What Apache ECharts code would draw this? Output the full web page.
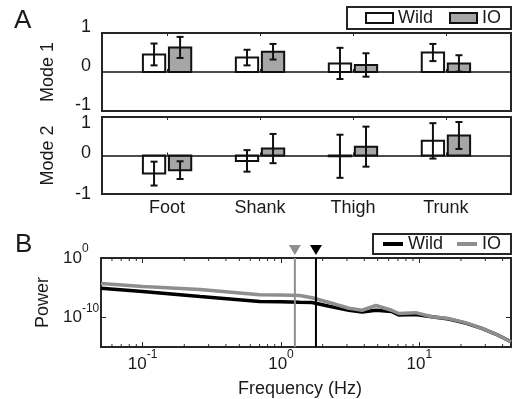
<!DOCTYPE html>
<html>
<head>
<meta charset="utf-8">
<script src="https://cdn.jsdelivr.net/npm/echarts@6/dist/echarts.min.js"></script>
<style>
html, body { margin: 0; padding: 0; background: #fff; }
#main { width: 513px; height: 399px; }
</style>
</head>
<body>
<div id="main"></div>
<script>
// panel A: mode weights per body segment (mean, error)
var segments = ['Foot', 'Shank', 'Thigh', 'Trunk'];
var mode1Wild = [0.45, 0.37, 0.22, 0.50];
var mode1WildErr = [0.28, 0.20, 0.40, 0.22];
var mode1IO = [0.63, 0.52, 0.18, 0.22];
var mode1IOErr = [0.27, 0.20, 0.30, 0.21];
var mode2Wild = [-0.47, -0.14, -0.02, 0.38];
var mode2WildErr = [0.31, 0.28, 0.56, 0.46];
var mode2IO = [-0.38, 0.18, 0.23, 0.52];
var mode2IOErr = [0.23, 0.38, 0.52, 0.35];

// panel B: power spectra
var freqs = [0.05, 0.1, 0.26, 0.7, 1.0, 1.36, 1.68, 2.23, 3.1, 3.86, 4.86, 6.3, 7.1, 9.4, 12.3, 16.3, 21.6, 28.3, 36.3, 46];
var wildPower = [7.9e-6, 2.2e-6, 3.2e-7, 4.6e-8, 4.2e-8, 3.5e-8, 3.2e-8, 7.4e-9, 1.6e-9, 7.9e-10, 1.6e-9, 1.0e-9, 2.5e-10, 3.2e-10, 1.3e-10, 5.5e-11, 1.1e-11, 1.4e-12, 1.3e-13, 7.9e-15];
var ioPower = [5.0e-5, 1.6e-5, 5.0e-6, 6.8e-7, 6.0e-7, 4.7e-7, 2.0e-7, 3.2e-8, 3.5e-9, 1.6e-9, 1.0e-8, 1.6e-9, 4.5e-10, 6.3e-10, 1.3e-10, 6.3e-11, 1.3e-11, 1.4e-12, 1.3e-13, 7.9e-15];
var cutoffFreqs = [1.26, 1.79];  // IO, Wild
var minorFreqs = [0.06, 0.07, 0.08, 0.09, 0.2, 0.3, 0.4, 0.5, 0.6, 0.7, 0.8, 0.9,
                  2, 3, 4, 5, 6, 7, 8, 9, 20, 30, 40];

var FONT = '"Liberation Sans", Arial, sans-serif';
var INK = '#1a1a1a';
var BOX = '#262626';
var GREY_BAR = '#a6a6a6';
var GREY_LINE = '#8e8e8e';
var cutoffColors = [GREY_LINE, '#000'];

function barData(vals, errs, shift) {
    return vals.map(function (v, i) { return [i + 1 + shift, v, errs[i]]; });
}

function makeBarRender(fill) {
    return function (params, api) {
        var x = api.value(0), v = api.value(1), e = api.value(2);
        var base = api.coord([x, 0]);
        var tip = api.coord([x, v]);
        var hi = api.coord([x, v + e]);
        var lo = api.coord([x, v - e]);
        var w = api.size([0.24, 0])[0];
        var cap = 3.5;
        var stroke = { stroke: '#111', lineWidth: 2 };
        return {
            type: 'group',
            children: [
                { type: 'rect', shape: { x: base[0] - w / 2, y: Math.min(base[1], tip[1]), width: w, height: Math.abs(tip[1] - base[1]) },
                  style: { fill: fill, stroke: '#111', lineWidth: 2 } },
                { type: 'line', shape: { x1: hi[0], y1: hi[1], x2: lo[0], y2: lo[1] }, style: stroke },
                { type: 'line', shape: { x1: hi[0] - cap, y1: hi[1], x2: hi[0] + cap, y2: hi[1] }, style: stroke },
                { type: 'line', shape: { x1: lo[0] - cap, y1: lo[1], x2: lo[0] + cap, y2: lo[1] }, style: stroke }
            ]
        };
    };
}

function barSeries(name, fill, axisIdx, vals, errs, shift, zeroLine) {
    var s = {
        name: name,
        type: 'custom',
        xAxisIndex: axisIdx * 2,
        yAxisIndex: axisIdx,
        renderItem: makeBarRender(fill),
        itemStyle: { color: fill, borderColor: '#111', borderWidth: 2 },
        data: barData(vals, errs, shift),
        silent: true,
        z: 3
    };
    if (zeroLine) {
        s.markLine = {
            silent: true, symbol: 'none', label: { show: false },
            lineStyle: { color: '#111', width: 1.5, type: 'solid' },
            data: [{ yAxis: 0 }]
        };
    }
    return s;
}

// "10" as plain text, exponent as a raised rich token
function powLabel(v) {
    var e = Math.round(Math.log10(v));
    return '10{sup|' + e + '}';
}
var powRich = {
    sup: { fontSize: 12, lineHeight: 30, verticalAlign: 'top', color: INK, fontFamily: FONT }
};

function catAxis(gridIdx, pos, showLabels) {
    return {
        type: 'value', gridIndex: gridIdx, position: pos, min: 0.3, max: 4.7,
        axisLine: { show: false },
        splitLine: { show: false },
        axisTick: { show: true, inside: true, length: 3, customValues: [1, 2, 3, 4], lineStyle: { color: BOX, width: 1 } },
        axisLabel: {
            show: showLabels, customValues: [1, 2, 3, 4], margin: 5,
            fontSize: 18, color: INK, fontFamily: FONT,
            formatter: function (v) { return segments[Math.round(v) - 1]; }
        }
    };
}

function modeAxis(gridIdx, name, rich, pick) {
    return {
        type: 'value', gridIndex: gridIdx, min: -1, max: 1, interval: 1,
        name: name, nameLocation: 'middle', nameGap: 45,
        nameTextStyle: { fontSize: 18, color: INK, fontFamily: FONT },
        axisLine: { show: false }, axisTick: { show: false }, splitLine: { show: false },
        axisLabel: {
            margin: 11, fontSize: 18, color: INK, fontFamily: FONT,
            formatter: function (v) { return '{' + pick(v) + '|' + v + '}'; },
            rich: rich
        }
    };
}

var lblStyle = { fontSize: 18, color: INK, fontFamily: FONT };
function rs(pad) { return Object.assign({ padding: pad }, lblStyle); }
var mode1Rich = { u: rs([0, 0, 12, 0]) };
var mode2Rich = { d: rs([12, 0, 0, 0]), m: rs([0, 0, 4, 0]), n: rs([0, 0, 0, 0]) };

var chartDom = document.getElementById('main');
var myChart = echarts.init(chartDom, null, { renderer: 'canvas' });
var option;

option = {
    backgroundColor: '#fff',
    animation: false,
    textStyle: { fontFamily: FONT, color: INK },
    graphic: [
        { type: 'text', left: 14, top: 8, style: { text: 'A', font: '26px ' + FONT, fill: INK } },
        { type: 'text', left: 15, top: 232, style: { text: 'B', font: '26px ' + FONT, fill: INK } }
    ],
    legend: [
        {
            right: 2, top: 7, orient: 'horizontal',
            padding: [2, 10, 2, 18], itemGap: 16, itemWidth: 27, itemHeight: 10,
            borderColor: BOX, borderWidth: 2, backgroundColor: '#fff',
            textStyle: { fontSize: 18, color: INK, fontFamily: FONT },
            selectedMode: false,
            data: [
                { name: 'Wild', icon: 'rect', itemStyle: { color: '#fff', borderColor: '#111', borderWidth: 2 } },
                { name: 'IO', icon: 'rect', itemStyle: { color: GREY_BAR, borderColor: '#111', borderWidth: 2 } }
            ]
        },
        {
            right: 2, top: 234, orient: 'horizontal',
            padding: [1, 10, 1, 10], itemGap: 14, itemWidth: 20, itemHeight: 4,
            borderColor: BOX, borderWidth: 2, backgroundColor: '#fff',
            textStyle: { fontSize: 18, color: INK, fontFamily: FONT },
            selectedMode: false,
            data: [
                { name: 'Wild', icon: 'rect', itemStyle: { color: '#000', borderWidth: 0 } },
                { name: 'IO', icon: 'rect', itemStyle: { color: GREY_LINE, borderWidth: 0 } }
            ]
        }
    ],
    grid: [
        { left: 102, top: 33, width: 409, height: 78, show: true, borderColor: BOX, borderWidth: 2, backgroundColor: 'transparent' },
        { left: 102, top: 117, width: 409, height: 77, show: true, borderColor: BOX, borderWidth: 2, backgroundColor: 'transparent' },
        { left: 101, top: 258, width: 410, height: 94, show: true, borderColor: BOX, borderWidth: 2, backgroundColor: 'transparent' }
    ],
    xAxis: [
        catAxis(0, 'bottom', false),
        catAxis(0, 'top', false),
        catAxis(1, 'bottom', true),
        catAxis(1, 'top', false),
        {
            type: 'log', gridIndex: 2, position: 'bottom', min: 0.05, max: 46, logBase: 10,
            name: 'Frequency (Hz)', nameLocation: 'middle', nameGap: 24,
            nameTextStyle: { fontSize: 18, color: INK, fontFamily: FONT, padding: [0, 12, 0, 0] },
            axisLine: { show: false }, splitLine: { show: false },
            axisTick: { inside: true, length: 5, lineStyle: { color: BOX } },
            axisLabel: {
                margin: 2, fontSize: 17, lineHeight: 30, fontFamily: FONT, color: INK,
                formatter: powLabel, rich: powRich, showMinLabel: false, showMaxLabel: false
            }
        },
        {
            type: 'log', gridIndex: 2, position: 'top', min: 0.05, max: 46, logBase: 10,
            axisLine: { show: false }, splitLine: { show: false },
            axisTick: { inside: true, length: 5, lineStyle: { color: BOX } },
            axisLabel: { show: false }
        }
    ],
    yAxis: [
        modeAxis(0, 'Mode 1', mode1Rich, function () { return 'u'; }),
        modeAxis(1, 'Mode 2', mode2Rich, function (v) { return v > 0 ? 'd' : (v === 0 ? 'm' : 'n'); }),
        {
            type: 'log', gridIndex: 2, min: 1e-15, max: 1, logBase: 10,
            name: 'Power', nameLocation: 'middle', nameGap: 44,
            nameTextStyle: { fontSize: 18, color: INK, fontFamily: FONT },
            axisLine: { show: false }, splitLine: { show: false },
            axisTick: { inside: true, length: 5, lineStyle: { color: BOX } },
            axisLabel: {
                margin: 38, align: 'left', fontSize: 17, lineHeight: 30, fontFamily: FONT, color: INK,
                rich: powRich, showMinLabel: false,
                formatter: function (v) {
                    var e = Math.round(Math.log10(v));
                    return (e === 0 || e === -10) ? powLabel(v) : '';
                }
            }
        },
        {
            type: 'log', gridIndex: 2, position: 'right', min: 1e-15, max: 1, logBase: 10,
            axisLine: { show: false }, splitLine: { show: false },
            axisTick: { inside: true, length: 5, lineStyle: { color: BOX } },
            axisLabel: { show: false }
        }
    ],
    series: [
        barSeries('Wild', '#fff', 0, mode1Wild, mode1WildErr, -0.14, true),
        barSeries('IO', GREY_BAR, 0, mode1IO, mode1IOErr, 0.14, false),
        barSeries('Wild', '#fff', 1, mode2Wild, mode2WildErr, -0.14, true),
        barSeries('IO', GREY_BAR, 1, mode2IO, mode2IOErr, 0.14, false),
        {
            name: 'minor ticks', type: 'custom', xAxisIndex: 4, yAxisIndex: 2, silent: true,
            data: minorFreqs.map(function (f) { return [f, 1]; }),
            renderItem: function (params, api) {
                var x = api.coord([api.value(0), 1])[0];
                var top = params.coordSys.y, bot = params.coordSys.y + params.coordSys.height;
                var st = { stroke: BOX, lineWidth: 1 };
                return { type: 'group', children: [
                    { type: 'line', shape: { x1: x, y1: top, x2: x, y2: top + 3 }, style: st },
                    { type: 'line', shape: { x1: x, y1: bot, x2: x, y2: bot - 3 }, style: st }
                ] };
            }
        },
        {
            name: 'Wild', type: 'line', xAxisIndex: 4, yAxisIndex: 2,
            showSymbol: false, silent: true, color: '#000',
            lineStyle: { color: '#000', width: 3.5 },
            data: freqs.map(function (f, i) { return [f, wildPower[i]]; }),
            z: 4
        },
        {
            name: 'IO', type: 'line', xAxisIndex: 4, yAxisIndex: 2,
            showSymbol: false, silent: true, color: GREY_LINE,
            lineStyle: { color: GREY_LINE, width: 3.5 },
            data: freqs.map(function (f, i) { return [f, ioPower[i]]; }),
            z: 5
        },
        {
            name: 'cutoffs', type: 'custom', xAxisIndex: 4, yAxisIndex: 2, silent: true, clip: false,
            data: cutoffFreqs.map(function (f, i) { return [f, 1, i]; }),
            renderItem: function (params, api) {
                var x = api.coord([api.value(0), 1])[0];
                var c = cutoffColors[api.value(2)];
                var top = params.coordSys.y, bot = params.coordSys.y + params.coordSys.height;
                return { type: 'group', children: [
                    { type: 'line', shape: { x1: x, y1: top, x2: x, y2: bot }, style: { stroke: c, lineWidth: 2 } },
                    { type: 'polygon', shape: { points: [[x - 6, top - 13], [x + 6, top - 13], [x, top - 3]] }, style: { fill: c } }
                ] };
            },
            z: 6
        }
    ]
};

option && myChart.setOption(option);
</script>
</body>
</html>
